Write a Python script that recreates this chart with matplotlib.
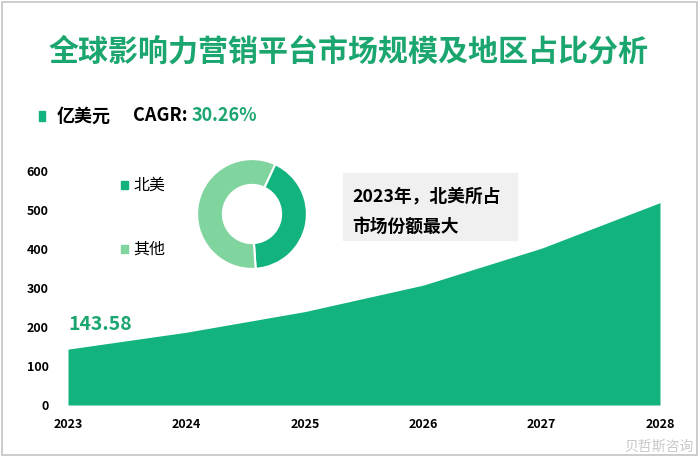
import matplotlib
matplotlib.use("Agg")
import matplotlib.pyplot as plt
from matplotlib.patches import Rectangle

plt.rcParams["font.family"] = ["Noto Sans CJK SC", "DejaVu Sans"]

# data
years = [2023, 2024, 2025, 2026, 2027, 2028]
market_size = [143.58, 187, 240, 308, 403, 520]
region_labels = ["北美", "其他"]
region_share = [42, 58]
title = "全球影响力营销平台市场规模及地区占比分析"
unit = "亿美元"
cagr = "30.26%"
note_lines = ["2023年，北美所占", "市场份额最大"]

GREEN = "#12b37f"
LIGHT = "#80d49e"
TEXT_GREEN = "#1ca66f"

W, H = 700, 458


def px(x, y):
    return x / W, 1 - y / H


fig = plt.figure(figsize=(7, 4.58), dpi=100)

# outer frame
fig.patches.append(Rectangle(px(2, 455), 695 / W, 453 / H, transform=fig.transFigure,
                             fill=False, edgecolor="#c4c4c4", linewidth=1.2))

fig.text(*px(349, 52), title, ha="center", va="center", fontsize=21.6,
         fontweight="bold", color=TEXT_GREEN)

# unit + CAGR line
fig.patches.append(Rectangle(px(39, 121), 6 / W, 10 / H, transform=fig.transFigure,
                             color=GREEN))
fig.text(*px(57, 116), unit, ha="left", va="center", fontsize=13, fontweight="bold")
fig.text(*px(133, 116), "CAGR:", ha="left", va="center", fontsize=13, fontweight="bold")
fig.text(*px(192, 116), cagr, ha="left", va="center", fontsize=13,
         fontweight="bold", color=TEXT_GREEN)

# area chart
ax = fig.add_axes([68 / W, 1 - 405 / H, 592 / W, 233.5 / H])
ax.fill_between(years, market_size, 0, color=GREEN, linewidth=0)
ax.set_xlim(years[0], years[-1])
ax.set_ylim(0, 600)
ax.set_xticks(years)
ax.set_yticks(range(0, 601, 100))
ax.tick_params(length=0, labelsize=9)
ax.tick_params(axis="x", pad=9)
ax.tick_params(axis="y", pad=14)
for lab in ax.get_xticklabels() + ax.get_yticklabels():
    lab.set_fontweight("bold")
for s in ax.spines.values():
    s.set_visible(False)
ax.patch.set_alpha(0)
ax.annotate(f"{market_size[0]:.2f}", xy=(years[0], market_size[0]), xytext=(0, 18),
            textcoords="offset points", ha="left", va="center", fontsize=14,
            fontweight="bold", color=TEXT_GREEN)

# donut
dax = fig.add_axes([(252 - 56) / W, 1 - (214 + 56) / H, 112 / W, 112 / H])
dax.pie(region_share, colors=[GREEN, LIGHT], startangle=65, counterclock=False,
        wedgeprops=dict(width=0.47, edgecolor="white", linewidth=1.5))
dax.set_xlim(-1.02, 1.02)
dax.set_ylim(-1.02, 1.02)
dax.set_aspect("equal")

for i, (lab, col) in enumerate(zip(region_labels, [GREEN, LIGHT])):
    y = 185 + i * 64
    fig.patches.append(Rectangle(px(121, y + 4), 7 / W, 8 / H,
                                 transform=fig.transFigure, color=col))
    fig.text(*px(133, y), lab, ha="left", va="center", fontsize=11.5,
             fontweight="medium")

# note box
fig.patches.append(Rectangle(px(343, 240), 174 / W, 67 / H, transform=fig.transFigure,
                             color="#f0f0f0", zorder=0))
fig.text(*px(352, 196), note_lines[0], ha="left", va="center", fontsize=12.8,
         fontweight="bold")
fig.text(*px(352, 227), note_lines[1], ha="left", va="center", fontsize=12.8,
         fontweight="bold")

# weibo watermark
fig.text(*px(694, 447), "贝哲斯咨询", ha="right", va="center", fontsize=10,
         color="#c8c8c8")

fig.savefig("out.png", dpi=100)
